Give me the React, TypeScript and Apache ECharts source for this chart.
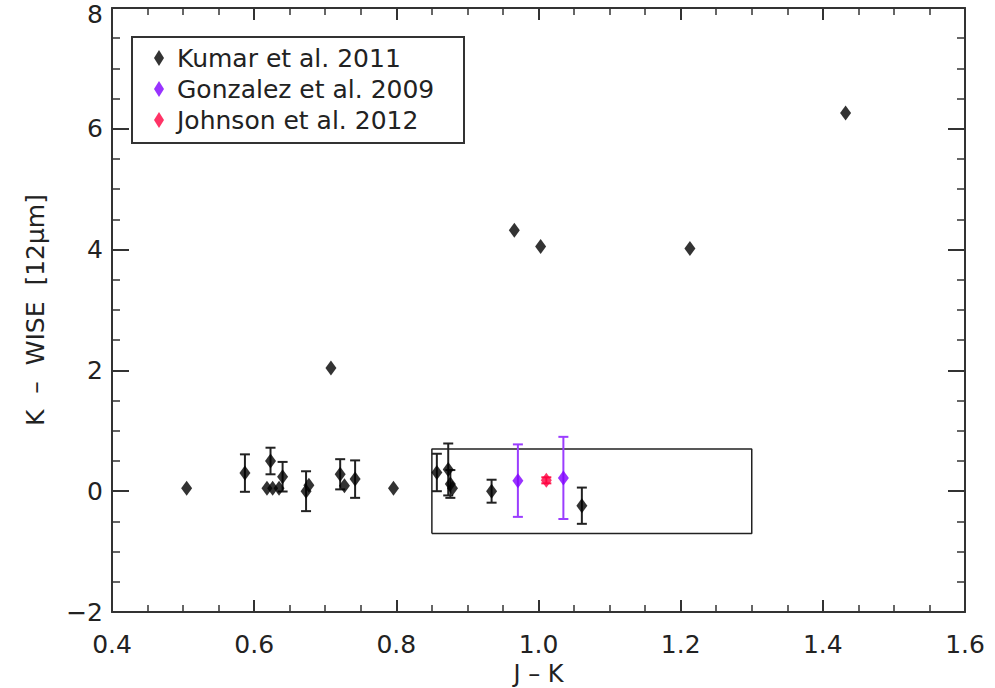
import React, { useEffect, useRef } from "react";
import * as echarts from "echarts";

// Kumar et al. 2011: J-K colour, K-WISE[12um] colour, 1-sigma error (0 = no bar drawn)
const kumarX = [0.505, 0.587, 0.623, 0.618, 0.626, 0.635, 0.64, 0.673, 0.677, 0.721, 0.727, 0.742, 0.796, 0.857, 0.873, 0.876, 0.879, 0.934, 1.061, 0.708, 0.966, 1.003, 1.213, 1.432];
const kumarY = [0.05, 0.3, 0.5, 0.05, 0.05, 0.05, 0.24, 0.0, 0.1, 0.28, 0.09, 0.2, 0.05, 0.31, 0.36, 0.12, 0.05, 0.0, -0.24, 2.04, 4.32, 4.05, 4.02, 6.26];
const kumarErr = [0, 0.31, 0.22, 0, 0, 0, 0.245, 0.33, 0, 0.25, 0, 0.31, 0, 0.31, 0.43, 0.23, 0, 0.19, 0.3, 0, 0, 0, 0, 0];

// Gonzalez et al. 2009
const gonzalezX = [0.971, 1.035];
const gonzalezY = [0.175, 0.22];
const gonzalezErr = [0.6, 0.68];

// Johnson et al. 2012
const johnsonX = [1.011];
const johnsonY = [0.18];
const johnsonErr = [0.05];

// Outline around the low-colour region (x range, y range)
const boxX = [0.85, 1.3];
const boxY = [-0.7, 0.7];

const legendNames = ["Kumar et al. 2011", "Gonzalez et al. 2009", "Johnson et al. 2012"];

const xTicks = { min: 0.4, max: 1.6, interval: 0.2 };
const yTicks = { min: -2, max: 8, interval: 2 };

const FONT = "DejaVu Sans";
const AXIS_COLOR = "#333";

const pts = (xs: number[], ys: number[]) => xs.map((x, i) => [x, ys[i]]);
const errPts = (xs: number[], ys: number[], es: number[]) =>
  xs.map((x, i) => [x, ys[i], es[i]]).filter((d) => d[2] > 0);

function errorBars(name: string, data: number[][], color: string) {
  return {
    type: "custom",
    name,
    data,
    z: 2,
    silent: true,
    renderItem: (_params: any, api: any) => {
      const x = api.value(0);
      const y = api.value(1);
      const e = api.value(2);
      const top = api.coord([x, y + e]);
      const bot = api.coord([x, y - e]);
      const cap = 5;
      const style = { stroke: color, lineWidth: 2 };
      return {
        type: "group",
        children: [
          { type: "line", shape: { x1: top[0], y1: top[1], x2: bot[0], y2: bot[1] }, style },
          { type: "line", shape: { x1: top[0] - cap, y1: top[1], x2: top[0] + cap, y2: top[1] }, style },
          { type: "line", shape: { x1: bot[0] - cap, y1: bot[1], x2: bot[0] + cap, y2: bot[1] }, style },
        ],
      };
    },
  };
}

function scatter(name: string, data: number[][], color: string) {
  return {
    type: "scatter",
    name,
    data,
    z: 3,
    symbol: "diamond",
    symbolSize: [11, 15],
    itemStyle: { color },
  };
}

function axisCommon(majorLen: number, minorLen: number) {
  return {
    type: "value",
    splitLine: { show: false },
    axisLine: { show: true, onZero: false, lineStyle: { color: AXIS_COLOR, width: 2 } },
    axisTick: { show: true, inside: true, length: majorLen, lineStyle: { color: AXIS_COLOR, width: 2 } },
    minorTick: { show: true, splitNumber: 4, length: minorLen, lineStyle: { color: AXIS_COLOR, width: 1.5 } },
  };
}

export default function App() {
  const ref = useRef<HTMLDivElement>(null);

  useEffect(() => {
    if (!ref.current) return;
    const chart = echarts.init(ref.current, null, { renderer: "svg" });

    const labelStyle = { fontFamily: FONT, fontSize: 25, color: "#222" };

    chart.setOption({
      animation: false,
      backgroundColor: "#fff",
      grid: { left: 112, top: 8, right: 30, bottom: 76, containLabel: false, outerBoundsMode: "none" },
      legend: {
        data: legendNames.map((n) => ({ name: n, icon: "diamond" })),
        orient: "vertical",
        left: 154,
        top: 44,
        itemWidth: 10,
        itemHeight: 16,
        itemGap: 3,
        padding: 0,
        selectedMode: false,
        textStyle: { fontFamily: FONT, fontSize: 25, color: "#222", lineHeight: 28, padding: [0, 0, 0, 8] },
      },
      graphic: [
        {
          type: "rect",
          shape: { x: 132, y: 37, width: 332, height: 106 },
          style: { fill: "none", stroke: AXIS_COLOR, lineWidth: 2 },
          z: 10,
        },
      ],
      xAxis: [
        {
          ...axisCommon(12, 7),
          ...xTicks,
          position: "bottom",
          axisLabel: { ...labelStyle, margin: 20, formatter: (v: number) => v.toFixed(1) },
          name: "J – K",
          nameLocation: "middle",
          nameGap: 48,
          nameTextStyle: { ...labelStyle, fontSize: 24 },
        },
        {
          ...axisCommon(12, 7),
          ...xTicks,
          position: "top",
          axisLabel: { show: false },
        },
      ],
      yAxis: [
        {
          ...axisCommon(17, 8),
          ...yTicks,
          position: "left",
          axisLabel: {
            ...labelStyle,
            margin: 9,
            formatter: (v: number) => {
              if (v >= yTicks.max) return "{hi|" + v + "}";
              return v < 0 ? "−" + Math.abs(v) : String(v);
            },
            rich: {
              hi: { ...labelStyle, padding: [12, 0, 0, 0] },
            },
          },
          name: "K  –  WISE  [12μm]",
          nameLocation: "middle",
          nameGap: 64,
          nameTextStyle: labelStyle,
        },
        {
          ...axisCommon(17, 8),
          ...yTicks,
          position: "right",
          axisLabel: { show: false },
        },
      ],
      series: [
        {
          type: "line",
          name: "region",
          data: [
            [boxX[0], boxY[0]],
            [boxX[1], boxY[0]],
            [boxX[1], boxY[1]],
            [boxX[0], boxY[1]],
            [boxX[0], boxY[0]],
          ],
          symbol: "none",
          silent: true,
          z: 1,
          lineStyle: { color: "#222", width: 1.5 },
        },
        errorBars("Kumar err", errPts(kumarX, kumarY, kumarErr), "#222"),
        errorBars("Gonzalez err", errPts(gonzalezX, gonzalezY, gonzalezErr), "#9b3dff"),
        errorBars("Johnson err", errPts(johnsonX, johnsonY, johnsonErr), "#ff1a4d"),
        scatter(legendNames[0], pts(kumarX, kumarY), "#000"),
        scatter(legendNames[1], pts(gonzalezX, gonzalezY), "#7f00ff"),
        scatter(legendNames[2], pts(johnsonX, johnsonY), "#ff0040"),
      ],
    });

    return () => chart.dispose();
  }, []);

  return <div ref={ref} style={{ position: "fixed", left: 0, top: 0, width: 995, height: 688 }} />;
}
